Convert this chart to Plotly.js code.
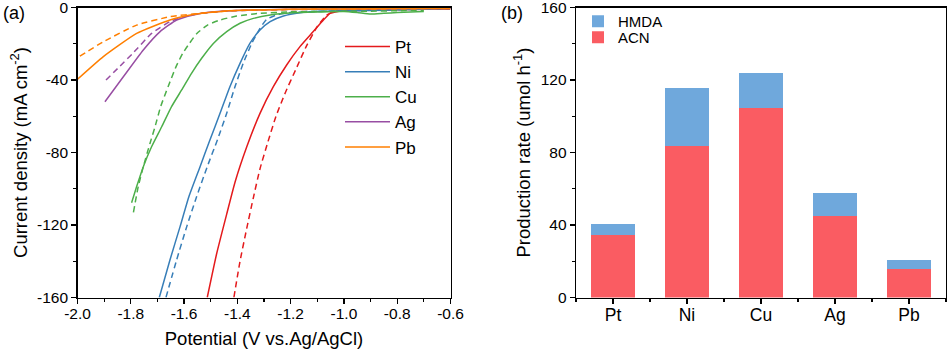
<!DOCTYPE html>
<html>
<head>
<meta charset="utf-8">
<script src="https://cdn.plot.ly/plotly-3.0.1.min.js"></script>
<style>
    body { margin: 0; background: #fff; }
    #chart { width: 950px; height: 353px; }
</style>
</head>
<body>
<div id="chart"></div>
<script>
// (a) LSV curves (potential in V vs Ag/AgCl, current in mA cm-2)
var ptSolidV = [-1.513, -1.478, -1.440, -1.408, -1.365, -1.315, -1.265, -1.215, -1.165, -1.115, -1.077, -1.052, -1.027, -1.00, -0.90, -0.80, -0.70, -0.60];
var ptSolidJ = [-160, -136, -114, -96, -77, -58.4, -43.7, -31.7, -21.6, -13.3, -6.9, -3.2, -2.3, -1.8, -1.5, -1.2, -1.0, -0.8];
var ptDashV = [-1.413, -1.390, -1.365, -1.340, -1.315, -1.285, -1.255, -1.220, -1.180, -1.140, -1.100, -1.065, -1.040, -1.00, -0.90, -0.80, -0.70, -0.60];
var ptDashJ = [-160, -140, -122, -105, -89, -74, -60, -47, -34, -21, -10.5, -4.2, -2.3, -1.6, -1.2, -1.0, -0.8, -0.6];

var niSolidV = [-1.693, -1.653, -1.615, -1.582, -1.540, -1.503, -1.465, -1.428, -1.390, -1.353, -1.315, -1.277, -1.227, -1.165, -1.090, -1.00, -0.90, -0.80, -0.70, -0.60];
var niSolidJ = [-160, -139.3, -120.9, -104.4, -87.8, -73.1, -58.4, -43.7, -30.8, -19.8, -12.4, -7.8, -4.7, -2.9, -2.1, -1.9, -1.6, -1.3, -1.0, -0.5];
var niDashV = [-1.668, -1.628, -1.590, -1.553, -1.513, -1.475, -1.440, -1.409, -1.378, -1.346, -1.315, -1.290, -1.25, -1.20, -1.10, -1.00, -0.90, -0.80, -0.70, -0.60];
var niDashJ = [-160, -139.3, -120.9, -104.4, -87.8, -73.1, -58.4, -43.7, -30.8, -19.8, -11.5, -6.5, -4.0, -2.8, -2.2, -1.8, -1.5, -1.2, -0.9, -0.5];

var cuSolidV = [-1.797, -1.778, -1.753, -1.722, -1.684, -1.647, -1.609, -1.572, -1.534, -1.490, -1.440, -1.390, -1.340, -1.277, -1.190, -1.10, -1.00, -0.95, -0.90, -0.85, -0.80, -0.70];
var cuSolidJ = [-107.7, -98.8, -87.8, -76.8, -65.8, -54.7, -45.5, -36.3, -28.0, -19.8, -13.3, -8.7, -6.0, -4.1, -2.9, -2.5, -2.2, -2.8, -3.6, -3.2, -2.8, -2.2];
var cuDashV = [-1.790, -1.772, -1.753, -1.728, -1.709, -1.688, -1.660, -1.630, -1.605, -1.580, -1.552, -1.512, -1.465, -1.403, -1.315, -1.20, -1.10, -1.00, -0.90, -0.80, -0.70];
var cuDashJ = [-113, -98.8, -87.8, -75.0, -65.8, -54.7, -43.7, -32.6, -25.3, -19.8, -14.3, -9.7, -6.9, -4.7, -3.2, -2.4, -2.2, -2.0, -2.0, -1.8, -1.5];

var agSolidV = [-1.897, -1.828, -1.753, -1.690, -1.628, -1.565, -1.50, -1.40, -1.30, -1.20, -1.10, -1.00, -0.90, -0.80, -0.70, -0.60];
var agSolidJ = [-52, -38.2, -23.4, -13.3, -6.9, -4.1, -2.5, -1.6, -1.2, -1.0, -0.9, -0.8, -0.7, -0.6, -0.5, -0.4];
var agDashV = [-1.893, -1.840, -1.790, -1.722, -1.653, -1.600, -1.55, -1.45, -1.30, -1.10, -0.90, -0.60];
var agDashJ = [-40, -32.3, -24.9, -14.3, -7.8, -5.0, -3.5, -2.0, -1.3, -1.0, -0.8, -0.6];

var pbSolidV = [-2.0, -1.903, -1.778, -1.653, -1.553, -1.45, -1.35, -1.2, -1.0, -0.8, -0.6];
var pbSolidJ = [-39.6, -27.1, -14.3, -6.9, -3.6, -2.0, -1.4, -1.0, -0.8, -0.6, -0.5];
var pbDashV = [-1.991, -1.903, -1.778, -1.653, -1.54, -1.45, -1.35, -1.2, -1.0, -0.8, -0.6];
var pbDashJ = [-26.8, -18.9, -9.7, -5.1, -3.2, -2.0, -1.5, -1.1, -0.9, -0.7, -0.5];

// (b) production rates (umol h-1)
var metals = ["Pt", "Ni", "Cu", "Ag", "Pb"];
var acnRate = [34.3, 83.8, 104.6, 45.0, 15.5];
var hmdaRate = [6.2, 31.8, 19.3, 12.5, 5.0];

// tick labels
var potTicks = [-2.0, -1.8, -1.6, -1.4, -1.2, -1.0, -0.8, -0.6];
var potTickText = ["-2.0", "-1.8", "-1.6", "-1.4", "-1.2", "-1.0", "-0.8", "-0.6"];
var curTicks = [0, -40, -80, -120, -160];
var curTickText = ["0", "-40", "-80", "-120", "-160"];
var rateTicks = [0, 40, 80, 120, 160];

var colors = { Pt: "#e41a1c", Ni: "#377eb8", Cu: "#4daf4a", Ag: "#984ea3", Pb: "#ff7f00" };
var FONT = "Liberation Sans, Arial, sans-serif";

function lsv(name, v, j, dashed) {
    return {
        type: "scatter", mode: "lines", name: name,
        x: v, y: j, xaxis: "x", yaxis: "y",
        legend: "legend", showlegend: !dashed,
        line: { color: colors[name], width: 1.5, shape: "spline", smoothing: 0.5,
                dash: dashed ? "6px,4px" : "solid" },
        hoverinfo: "skip"
    };
}

var catIdx = metals.map(function (m, i) { return i; });

var data = [
    lsv("Pt", ptSolidV, ptSolidJ, false),
    lsv("Pt", ptDashV, ptDashJ, true),
    lsv("Ni", niSolidV, niSolidJ, false),
    lsv("Ni", niDashV, niDashJ, true),
    lsv("Cu", cuSolidV, cuSolidJ, false),
    lsv("Cu", cuDashV, cuDashJ, true),
    lsv("Ag", agSolidV, agSolidJ, false),
    lsv("Ag", agDashV, agDashJ, true),
    lsv("Pb", pbSolidV, pbSolidJ, false),
    lsv("Pb", pbDashV, pbDashJ, true),
    {
        type: "bar", name: "ACN", x: catIdx, y: acnRate, width: 0.6,
        xaxis: "x2", yaxis: "y2", legend: "legend3",
        marker: { color: "#fa5c62", line: { width: 0 } }
    },
    {
        type: "bar", name: "HMDA", x: catIdx, y: hmdaRate, width: 0.6,
        xaxis: "x2", yaxis: "y2", legend: "legend2",
        marker: { color: "#6fa8dc", line: { width: 0 } }
    }
];

var axisBase = {
    showline: true, linecolor: "#000", linewidth: 1.3, mirror: true,
    ticks: "outside", ticklen: 5, tickwidth: 1.3, tickcolor: "#000",
    showgrid: false, zeroline: false, ticklabeloverflow: "allow",
    tickfont: { family: FONT, size: 15.5, color: "#000" }
};

function axis(extra) {
    var a = JSON.parse(JSON.stringify(axisBase));
    for (var k in extra) a[k] = extra[k];
    return a;
}

var yTop = 1 - 7.5 / 353, yBot = 1 - 297.5 / 353;

var layout = {
    width: 950, height: 353,
    margin: { l: 0, r: 0, t: 0, b: 0 },
    paper_bgcolor: "#fff", plot_bgcolor: "#fff",
    barmode: "stack", bargap: 0.4,
    font: { family: FONT, color: "#000" },
    xaxis: axis({
        domain: [77.5 / 950, 450.5 / 950], anchor: "y",
        range: [-2.0, -0.6], tickmode: "array", tickvals: potTicks, ticktext: potTickText,
        ticklabelstandoff: -3,
        minor: { ticks: "outside", ticklen: 3, tickwidth: 1.2, tickcolor: "#000", tick0: -2, dtick: 0.1, showgrid: false },
        title: { text: "Potential (V vs.Ag/AgCl)", font: { family: FONT, size: 18.5 }, standoff: 10 }
    }),
    yaxis: axis({
        domain: [yBot, yTop], anchor: "x",
        range: [-160, 0], tickmode: "array", tickvals: curTicks, ticktext: curTickText,
        minor: { ticks: "outside", ticklen: 3, tickwidth: 1.2, tickcolor: "#000", tick0: 0, dtick: 20, showgrid: false },
        title: { text: "Current density (mA cm<sup>-2</sup>)", font: { family: FONT, size: 18.5 }, standoff: 4 }
    }),
    xaxis2: axis({
        domain: [576 / 950, 946 / 950], anchor: "y2",
        range: [-0.5, 4.5], tickmode: "array", tickvals: catIdx, ticktext: metals,
        ticklabelstandoff: -4,
        tickfont: { family: FONT, size: 17.5, color: "#000" },
        minor: { ticks: "outside", ticklen: 3, tickwidth: 1.2, tickcolor: "#000", tick0: 0.5, dtick: 1, showgrid: false }
    }),
    yaxis2: axis({
        domain: [yBot, yTop], anchor: "x2",
        range: [0, 160], tickmode: "array", tickvals: rateTicks,
        minor: { ticks: "outside", ticklen: 3, tickwidth: 1.2, tickcolor: "#000", tick0: 0, dtick: 20, showgrid: false },
        title: { text: "Production rate (umol h<sup>-1</sup>)", font: { family: FONT, size: 18.5 }, standoff: 5 }
    }),
    legend: {
        x: 340 / 950, xanchor: "left", y: 1 - 29 / 353, yanchor: "top",
        bgcolor: "rgba(0,0,0,0)", borderwidth: 0, itemwidth: 45,
        font: { family: FONT, size: 17, color: "#000" }
    },
    legend2: {
        x: 578 / 950, xanchor: "left", y: 1 - 5 / 353, yanchor: "top",
        bgcolor: "rgba(0,0,0,0)", borderwidth: 0,
        font: { family: FONT, size: 15, color: "#000" }
    },
    legend3: {
        x: 578 / 950, xanchor: "left", y: 1 - 21 / 353, yanchor: "top",
        bgcolor: "rgba(0,0,0,0)", borderwidth: 0,
        font: { family: FONT, size: 15, color: "#000" }
    },
    annotations: [
        { text: "(a)", xref: "paper", yref: "paper", x: 1 / 950, y: 1 - 13 / 353,
          xanchor: "left", yanchor: "middle", showarrow: false, font: { family: FONT, size: 18 } },
        { text: "(b)", xref: "paper", yref: "paper", x: 499 / 950, y: 1 - 13 / 353,
          xanchor: "left", yanchor: "middle", showarrow: false, font: { family: FONT, size: 18 } }
    ]
};

Plotly.newPlot("chart", data, layout, { staticPlot: true });
</script>
</body>
</html>
